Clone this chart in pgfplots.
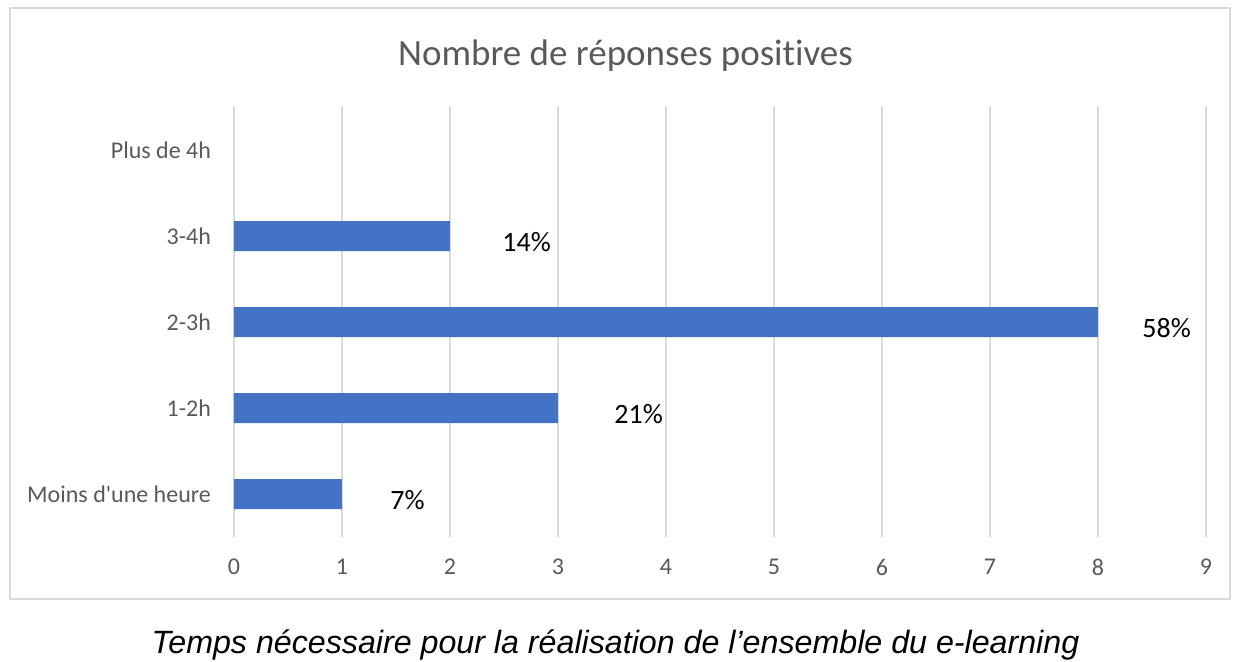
\documentclass[border=0pt]{standalone}
\usepackage{fontspec}
\setmainfont{Carlito}[RawFeature={-liga;-clig;-calt;-dlig}]
\newfontfamily\arialfont{Liberation Sans}
\usepackage{pgfplots}
\pgfplotsset{compat=1.18}
\usepackage{pgfplotstable}
\definecolor{barblue}{HTML}{4472C4}
\definecolor{gridc}{HTML}{D9D9D9}
\definecolor{txt}{HTML}{595959}

\pgfplotstableread{
y x pct dx
0 1 7 24
1 3 21 28
2 8 58 22
3 2 14 26
}\datatable

\begin{document}
\begin{tikzpicture}[x=1pt,y=1pt]
\useasboundingbox (0,0) rectangle (619.5,330.5);
\draw[gridc, line width=0.8pt] (5,31) rectangle (615,326.5);
\node[anchor=base, text=txt, font=\fontsize{18.5}{22}\selectfont] at (312.75,298) {Nombre de réponses posit{}ives};
\node[anchor=base, font=\arialfont\itshape\fontsize{16.1}{19}\selectfont] at (307.75,4) {Temps nécessaire pour la réalisation de l’ensemble du e-learning};
\begin{axis}[
  at={(117pt,62pt)}, anchor=south west,
  scale only axis, width=486pt, height=215pt,
  xmin=0, xmax=9, ymin=-0.5, ymax=4.5,
  axis line style={draw=none},
  major tick length=0pt,
  xtick={0,1,...,9},
  ytick={0,1,2,3,4},
  yticklabels={Moins d\textquotesingle une heure,1-2h,2-3h,3-4h,Plus de 4h},
  xmajorgrids, ymajorgrids=false,
  grid style={gridc, line width=0.8pt},
  /pgf/number format/assume math mode=true,
  ticklabel style={text=txt, font=\fontsize{12}{14}\selectfont},
  xticklabel style={yshift=-7.5pt},
  yticklabel style={xshift=-8pt},
  clip=false,
]
\addplot[xbar, bar width=15pt, fill=barblue, draw=none,
  point meta=explicit,
  visualization depends on={\thisrow{dx} \as \dx},
  nodes near coords={\pgfmathprintnumber{\pgfplotspointmeta}\%},
  every node near coord/.append style={anchor=west, inner sep=0pt, text=black,
     font=\fontsize{14}{16}\selectfont, xshift=\dx pt, yshift=-3pt},
] table[x=x, y=y, meta=pct] {\datatable};
\end{axis}
\end{tikzpicture}
\end{document}
